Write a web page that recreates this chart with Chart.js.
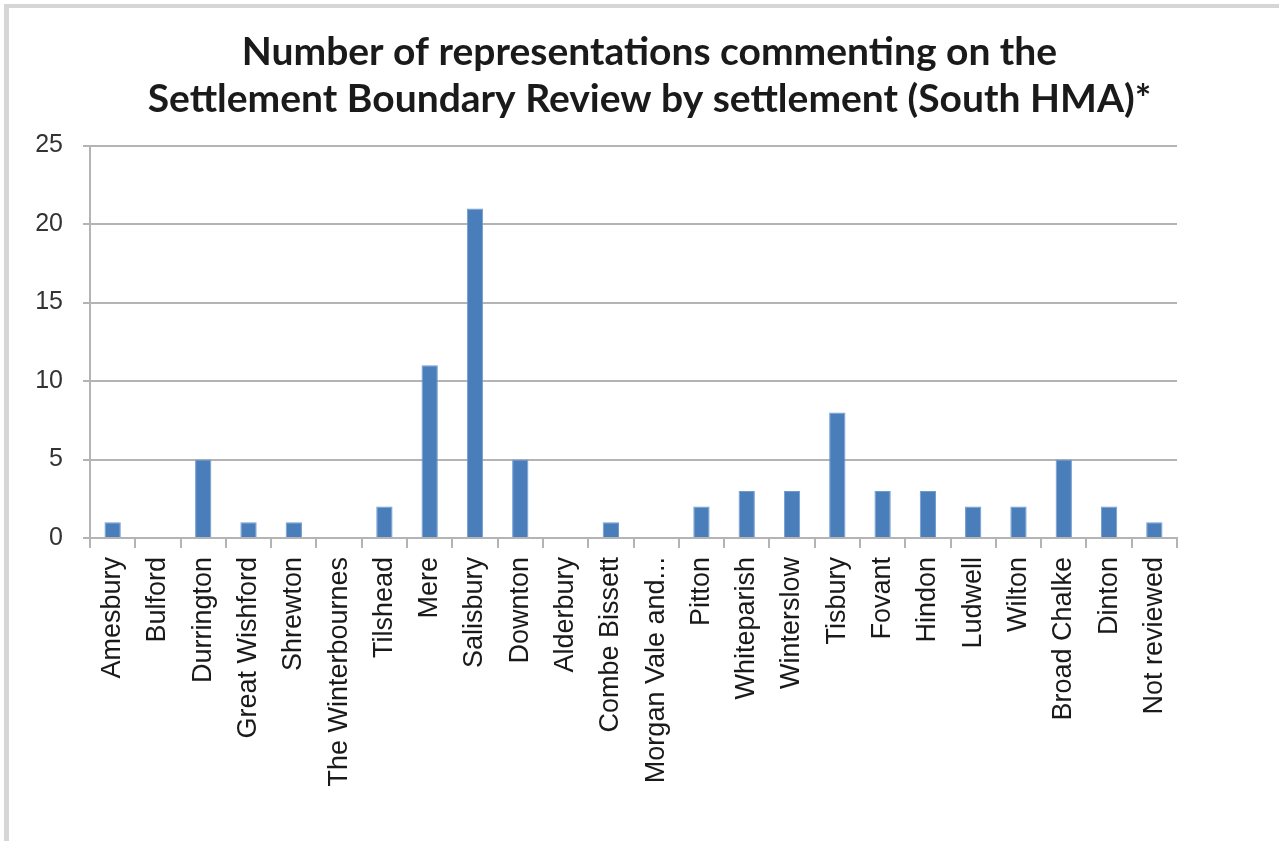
<!DOCTYPE html>
<html>
<head>
<meta charset="utf-8">
<script src="https://cdn.jsdelivr.net/npm/chart.js@4/dist/chart.umd.min.js"></script>
<style>
  html, body { margin: 0; padding: 0; background: #fff; }
  #wrap { position: relative; width: 1279px; height: 841px; }
  #frame { position: absolute; left: 4px; top: 4px; right: 0; bottom: 0;
           border-left: 5px solid #d6d6d6; border-top: 4px solid #d6d6d6; pointer-events: none; }
  canvas { position: absolute; left: 0; top: 0; }
</style>
</head>
<body>
<div id="wrap">
  <canvas id="c" width="1279" height="841"></canvas>
  <div id="frame"></div>
</div>
<script>
const categories = [
  "Amesbury", "Bulford", "Durrington", "Great Wishford", "Shrewton",
  "The Winterbournes", "Tilshead", "Mere", "Salisbury", "Downton",
  "Alderbury", "Combe Bissett", "Morgan Vale and...", "Pitton", "Whiteparish",
  "Winterslow", "Tisbury", "Fovant", "Hindon", "Ludwell",
  "Wilton", "Broad Chalke", "Dinton", "Not reviewed"
];
const representations = [
  1, 0, 5, 1, 1,
  0, 2, 11, 21, 5,
  0, 1, 0, 2, 3,
  3, 8, 3, 3, 2,
  2, 5, 2, 1
];
const titleLines = [
  "Number of representations commenting on the",
  "Settlement Boundary Review by settlement (South HMA)*"
];
const yMin = 0, yMax = 25, yStep = 5;

const gridGray = '#b4b4b4';

new Chart(document.getElementById('c'), {
  type: 'bar',
  data: {
    labels: categories,
    datasets: [{
      data: representations,
      backgroundColor: '#4a7ebb',
      borderColor: '#6f9bd1',
      borderWidth: 1,
      barPercentage: 0.36,
      categoryPercentage: 1.0
    }]
  },
  options: {
    responsive: false,
    devicePixelRatio: 1,
    animation: false,
    layout: { padding: { left: 20, right: 0, top: 0, bottom: 0 } },
    plugins: {
      legend: { display: false },
      tooltip: { enabled: false },
      title: {
        display: true,
        text: titleLines,
        color: '#1a1a1a',
        font: { family: 'Lato', weight: 'bold', size: 39, lineHeight: 1.2 },
        padding: { top: 29, bottom: 23 }
      }
    },
    scales: {
      x: {
        offset: true,
        grid: {
          offset: true,
          drawOnChartArea: false,
          drawTicks: true,
          tickLength: 10,
          color: gridGray,
          lineWidth: 2
        },
        border: { display: true, color: gridGray, width: 2 },
        ticks: {
          autoSkip: false,
          maxRotation: 90,
          minRotation: 90,
          padding: 9,
          color: '#1a1a1a',
          font: { family: 'Liberation Sans', size: 27 }
        },
        afterFit: (s) => { s.height = 841 - 538; }
      },
      y: {
        min: yMin,
        max: yMax,
        grid: {
          color: gridGray,
          lineWidth: 2,
          drawTicks: true,
          tickLength: 7
        },
        border: { display: true, color: gridGray, width: 2 },
        ticks: {
          stepSize: yStep,
          padding: 20,
          color: '#333',
          font: { family: 'Liberation Sans', size: 25 }
        },
        afterFit: (s) => { s.width = 70; }
      },
      yRight: {
        position: 'right',
        display: true,
        grid: { display: false, drawTicks: false },
        border: { display: false },
        ticks: { display: false },
        afterFit: (s) => { s.width = 102; }
      }
    }
  }
});
</script>
</body>
</html>
